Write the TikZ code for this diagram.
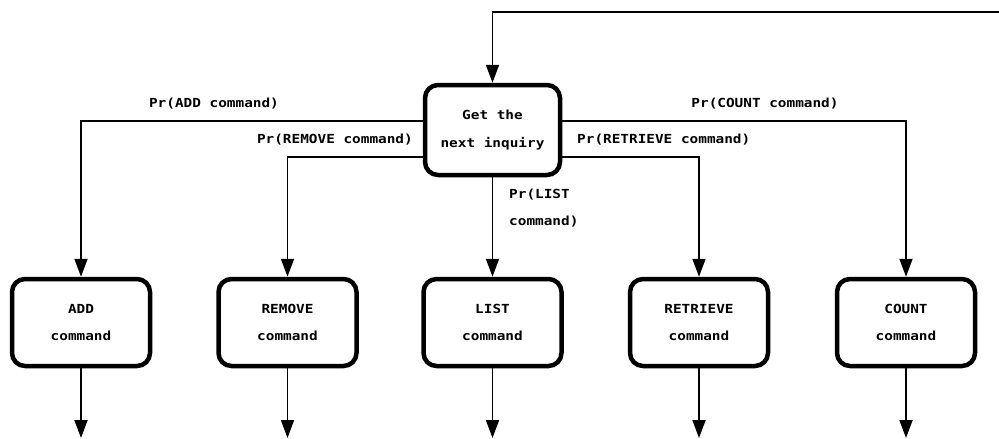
\documentclass[tikz,border=0pt]{standalone}
\usepackage{fontspec}
\newfontfamily\plotfont{DejaVu Sans Mono}[FakeStretch=1.15]
\usetikzlibrary{arrows.meta}
\begin{document}
\begin{tikzpicture}[x=1pt,y=-1pt,
  every node/.style={font=\plotfont\bfseries\fontsize{12.5}{27.5}\selectfont},
  cmdbox/.style={draw,line width=4.5pt,rounded corners=13pt,minimum width=138pt,
    minimum height=87pt,align=center,inner sep=0pt},
  flow/.style={line width=1.8pt,-{Triangle[length=18pt,width=13pt]}},
  prob/.style={inner sep=0pt}]
\useasboundingbox (0,0) rectangle (999,439);

% dispatcher box
\node[cmdbox,minimum width=135pt,minimum height=90pt] (get) at (492.5,130) {Get the\\next inquiry};

% command boxes
\node[cmdbox] (add) at (81,322.5) {ADD\\command};
\node[cmdbox] (rem) at (287.5,322.5) {REMOVE\\command};
\node[cmdbox] (lst) at (492.5,322.5) {LIST\\command};
\node[cmdbox] (ret) at (699,322.5) {RETRIEVE\\command};
\node[cmdbox] (cnt) at (906,322.5) {COUNT\\command};

% loop back from the right edge
\coordinate (back) at (999,12);
\draw[flow] (back) -| (get.north);

% branches out of the dispatcher
\draw[flow] (get.west |- 0,121) -| (add.north);
\draw[flow] (get.west |- 0,157) -| (rem.north);
\draw[flow] (get.south) -- (lst.north);
\draw[flow] (get.east |- 0,157) -| (ret.north);
\draw[flow] (get.east |- 0,121) -| (cnt.north);

% branch probabilities
\node[prob] (padd) at (214,104) {Pr(ADD command)};
\node[prob,anchor=east] (prem) at (413,140) {Pr(REMOVE command)};
\node[prob,anchor=west,align=left] (plst) at (509,208) {Pr(LIST\\command)};
\node[prob,anchor=west] (pret) at (577,140) {Pr(RETRIEVE command)};
\node[prob] (pcnt) at (765,104) {Pr(COUNT command)};

% exits below each command
\foreach \b/\x in {add/81,rem/287.5,lst/492.5,ret/699,cnt/906}{
  \coordinate (\b-end) at (\x,438);
  \draw[flow] (\b.south) -- (\b-end);
}
\end{tikzpicture}
\end{document}
